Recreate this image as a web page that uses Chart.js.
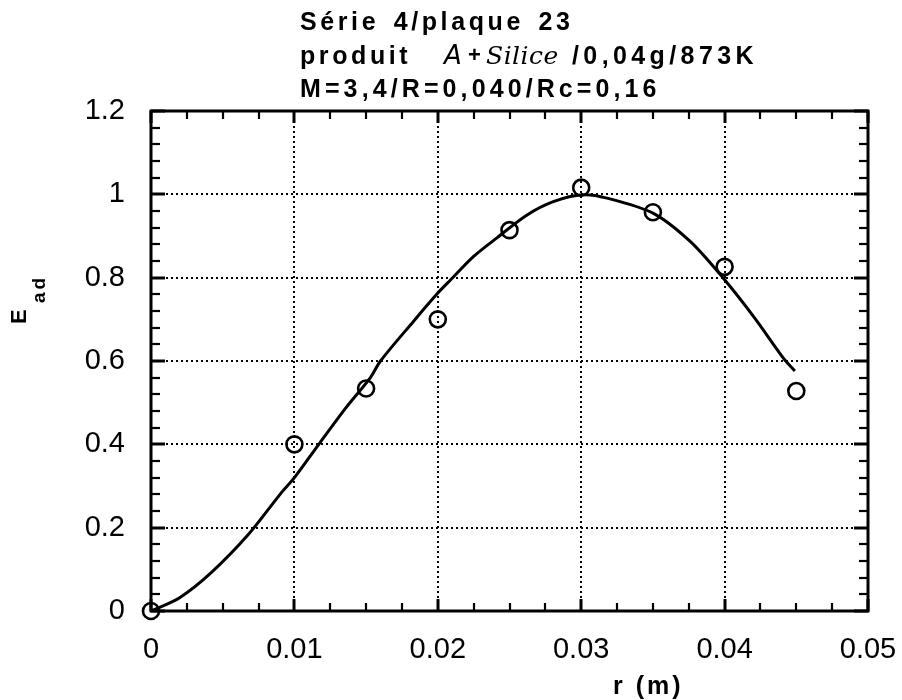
<!DOCTYPE html>
<html>
<head>
<meta charset="utf-8">
<script src="https://cdn.jsdelivr.net/npm/chart.js@4/dist/chart.umd.min.js"></script>
<style>
html,body{margin:0;padding:0;background:#fff;}
#wrap{width:902px;height:700px;position:relative;}
</style>
</head>
<body>
<div id="wrap"><canvas id="c" width="902" height="700"></canvas></div>
<script>
// ---- data ----
const titleLine1 = "Série 4/plaque 23";
const titleLine2a = "produit";
const titleLine2hand1 = "A";
const titleLine2plus = "+";
const titleLine2hand2 = "Silice";
const titleLine2b = "/0,04g/873K";
const titleLine3 = "M=3,4/R=0,040/Rc=0,16";
const xAxisTitle = "r (m)";
const yAxisTitleMain = "E";
const yAxisTitleSub = "ad";

const xTickLabels = ["0", "0.01", "0.02", "0.03", "0.04", "0.05"];
const yTickLabels = ["0", "0.2", "0.4", "0.6", "0.8", "1", "1.2"];

// measured points (circles)
const pointR = [0, 0.01, 0.015, 0.02, 0.025, 0.03, 0.035, 0.04, 0.045];
const pointE = [0, 0.40, 0.534, 0.70, 0.914, 1.016, 0.957, 0.826, 0.528];

// fitted curve (solid line)
const curveR = [0, 0.002, 0.0042, 0.0068, 0.009, 0.01, 0.0117, 0.0136, 0.0153, 0.016, 0.0183, 0.02, 0.0209, 0.0225, 0.0241, 0.0262, 0.0281, 0.0301, 0.0318, 0.035, 0.0376, 0.0399, 0.0421, 0.0441, 0.0449];
const curveE = [0, 0.032, 0.092, 0.184, 0.28, 0.32, 0.40, 0.488, 0.56, 0.60, 0.695, 0.763, 0.795, 0.851, 0.895, 0.95, 0.983, 0.999, 0.991, 0.955, 0.887, 0.799, 0.703, 0.607, 0.576];

const xMinorPerMajor = 4;
const yMinorPerMajor = 5;

const FONT = '"Liberation Sans", Arial, Helvetica, sans-serif';

const framePlugin = {
  id: 'framePlugin',
  beforeDatasetsDraw(chart) {
    const {ctx, chartArea: a, scales: {x, y}} = chart;
    const xt = x.ticks.map(t => t.value);
    const yt = y.ticks.map(t => t.value);
    ctx.save();
    ctx.strokeStyle = '#000';
    // dotted grid at interior majors
    ctx.lineWidth = 2;
    ctx.setLineDash([2, 3]);
    xt.forEach((v, i) => {
      if (i === 0 || i === xt.length - 1) return;
      const px = Math.round(x.getPixelForValue(v));
      ctx.beginPath(); ctx.moveTo(px, a.top); ctx.lineTo(px, a.bottom); ctx.stroke();
    });
    yt.forEach((v, i) => {
      if (i === 0 || i === yt.length - 1) return;
      const py = Math.round(y.getPixelForValue(v));
      ctx.beginPath(); ctx.moveTo(a.left, py); ctx.lineTo(a.right, py); ctx.stroke();
    });
    ctx.setLineDash([]);
    // ticks (inward), major and minor
    const xStep = (xt[1] - xt[0]) / xMinorPerMajor;
    const nX = (xt.length - 1) * xMinorPerMajor;
    for (let i = 0; i <= nX; i++) {
      const px = Math.round(x.getPixelForValue(xt[0] + i * xStep));
      const major = i % xMinorPerMajor === 0;
      const len = major ? 12 : 8;
      ctx.lineWidth = major ? 3 : 2.2;
      ctx.beginPath(); ctx.moveTo(px, a.bottom); ctx.lineTo(px, a.bottom - len); ctx.stroke();
      ctx.beginPath(); ctx.moveTo(px, a.top); ctx.lineTo(px, a.top + len); ctx.stroke();
    }
    const yStep = (yt[1] - yt[0]) / yMinorPerMajor;
    const nY = (yt.length - 1) * yMinorPerMajor;
    for (let i = 0; i <= nY; i++) {
      const py = Math.round(y.getPixelForValue(yt[0] + i * yStep));
      const major = i % yMinorPerMajor === 0;
      const len = major ? 14 : 9;
      ctx.lineWidth = major ? 3 : 2.2;
      ctx.beginPath(); ctx.moveTo(a.left, py); ctx.lineTo(a.left + len, py); ctx.stroke();
      ctx.beginPath(); ctx.moveTo(a.right, py); ctx.lineTo(a.right - len, py); ctx.stroke();
    }
    // frame
    ctx.lineWidth = 3;
    ctx.strokeRect(a.left, a.top, a.right - a.left, a.bottom - a.top);
    ctx.restore();
  },
  afterDraw(chart) {
    const {ctx} = chart;
    ctx.save();
    ctx.fillStyle = '#000';
    ctx.textBaseline = 'alphabetic';
    ctx.textAlign = 'left';
    // title
    ctx.font = 'bold 25px ' + FONT;
    ctx.letterSpacing = '3.6px';
    ctx.wordSpacing = '4px';
    ctx.fillText(titleLine1, 300, 30);
    ctx.letterSpacing = '3.6px';
    ctx.wordSpacing = '0px';
    ctx.fillText(titleLine2a, 300, 64);
    ctx.letterSpacing = '4.4px';
    ctx.fillText(titleLine2b, 572, 64);
    ctx.letterSpacing = '4.1px';
    ctx.fillText(titleLine3, 300, 97);
    ctx.letterSpacing = '0px';
    ctx.font = 'italic 26px "DejaVu Sans", sans-serif';
    ctx.fillText(titleLine2hand1, 444, 64);
    ctx.font = 'bold 22px ' + FONT;
    ctx.fillText(titleLine2plus, 468, 62);
    ctx.font = 'italic 25px "DejaVu Serif", serif';
    ctx.letterSpacing = '0.5px';
    ctx.fillText(titleLine2hand2, 486, 64);
    ctx.letterSpacing = '0px';
    // x axis title
    ctx.font = 'bold 25px ' + FONT;
    ctx.letterSpacing = '3px';
    ctx.fillText(xAxisTitle, 613, 694);
    // y axis title (rotated, with subscript)
    ctx.translate(26, 324);
    ctx.rotate(-Math.PI / 2);
    ctx.letterSpacing = '0px';
    ctx.font = 'bold 22px ' + FONT;
    ctx.fillText(yAxisTitleMain, 0, 0);
    ctx.font = 'bold 19px ' + FONT;
    ctx.letterSpacing = '3px';
    ctx.fillText(yAxisTitleSub, 21, 19);
    ctx.restore();
  }
};

new Chart(document.getElementById('c'), {
  type: 'scatter',
  data: {
    datasets: [
      {
        label: 'curve',
        data: curveR.map((r, i) => ({x: r, y: curveE[i]})),
        showLine: true,
        borderColor: '#000',
        borderWidth: 3,
        pointRadius: 0,
        tension: 0.3,
        fill: false,
        order: 2
      },
      {
        label: 'points',
        data: pointR.map((r, i) => ({x: r, y: pointE[i]})),
        showLine: false,
        pointStyle: 'circle',
        pointRadius: 8,
        pointBorderWidth: 2.6,
        pointBorderColor: '#000',
        pointBackgroundColor: 'rgba(0,0,0,0)',
        clip: false,
        order: 1
      }
    ]
  },
  options: {
    responsive: false,
    animation: false,
    devicePixelRatio: 1,
    layout: {padding: {top: 111, right: 34, left: 0, bottom: 0}},
    plugins: {legend: {display: false}, tooltip: {enabled: false}, title: {display: false}},
    scales: {
      x: {
        type: 'linear', min: 0, max: 0.05,
        grid: {display: false, drawTicks: false},
        border: {display: false},
        ticks: {
          stepSize: 0.01, padding: 22, color: '#000', maxRotation: 0,
          font: {family: FONT, size: 29},
          callback: (v, i) => xTickLabels[i]
        },
        afterFit: s => { s.height = 89; s.paddingLeft = 0; s.paddingRight = 0; }
      },
      y: {
        type: 'linear', min: 0, max: 1.2,
        grid: {display: false, drawTicks: false},
        border: {display: false},
        ticks: {
          stepSize: 0.2, padding: 26, color: '#000',
          font: {family: FONT, size: 29},
          callback: (v, i) => yTickLabels[i]
        },
        afterFit: s => { s.width = 151; s.paddingTop = 0; s.paddingBottom = 0; }
      }
    }
  },
  plugins: [framePlugin]
});
</script>
</body>
</html>
